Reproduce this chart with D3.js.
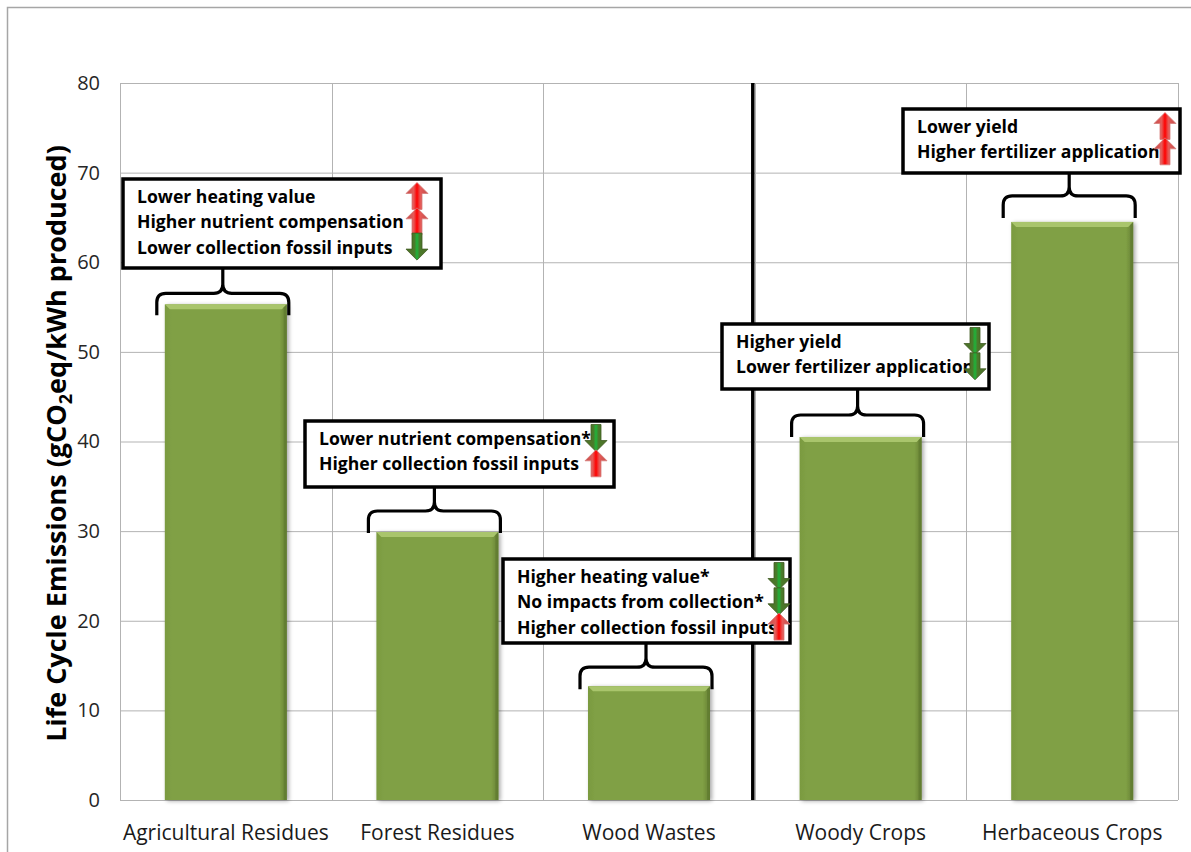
<!DOCTYPE html>
<html>
<head>
<meta charset="utf-8">
<script src="https://cdn.jsdelivr.net/npm/d3@7"></script>
<style>
  html, body { margin: 0; padding: 0; background: #fff; }
  svg { display: block; }
  text { font-family: "Open Sans", Lato, "DejaVu Sans", sans-serif; }
</style>
</head>
<body>
<svg id="chart" width="1191" height="852"></svg>
<script>
// Feedstock categories and their life cycle emissions (gCO2eq/kWh)
const categories = ["Agricultural Residues", "Forest Residues", "Wood Wastes", "Woody Crops", "Herbaceous Crops"];
const emissions = [55.3, 29.9, 12.7, 40.5, 64.5];
const yTicks = [0, 10, 20, 30, 40, 50, 60, 70, 80];

// Drivers listed above each bar; "up" raises emissions, "down" lowers them
const driverText = [
  ["Lower heating value", "Higher nutrient compensation", "Lower collection fossil inputs"],
  ["Lower nutrient compensation*", "Higher collection fossil inputs"],
  ["Higher heating value*", "No impacts from collection*", "Higher collection fossil inputs"],
  ["Higher yield", "Lower fertilizer application"],
  ["Lower yield", "Higher fertilizer application"]
];
const driverDirection = [
  ["up", "up", "down"],
  ["down", "up"],
  ["down", "down", "up"],
  ["down", "down"],
  ["up", "up"]
];

// Callout box placement (left, top, width, height, arrow inset from right)
const boxLayout = [
  {x: 123, y: 179, w: 318, h: 89, arrowInset: 24},
  {x: 305, y: 421, w: 309, h: 66, arrowInset: 18},
  {x: 503, y: 559, w: 287, h: 84, arrowInset: 11},
  {x: 722, y: 324, w: 267, h: 65, arrowInset: 14},
  {x: 903, y: 109, w: 277, h: 64, arrowInset: 15}
];
// Brace vertical offset: where the brace tips sit relative to the bar top
const braceTipOffset = [11, 1, 3, 0, -4];

const svg = d3.select("#chart");
const margin = {left: 120, right: 1178, top: 83, bottom: 800};

const x = d3.scaleBand().domain(categories).range([margin.left, margin.right]).padding(0);
const y = d3.scaleLinear().domain([0, 80]).range([margin.bottom, margin.top]);
const barW = 122;

// Outer frame
svg.append("rect")
  .attr("x", 7.5).attr("y", 7.5).attr("width", 1250).attr("height", 900)
  .attr("fill", "none").attr("stroke", "#a6a6a6").attr("stroke-width", 1.5);

const defs = svg.append("defs");
const redGrad = defs.append("linearGradient").attr("id", "redArrow").attr("x1", 0).attr("x2", 1).attr("y1", 0).attr("y2", 0);
redGrad.append("stop").attr("offset", "0%").attr("stop-color", "#c0504d");
redGrad.append("stop").attr("offset", "35%").attr("stop-color", "#e65a57");
redGrad.append("stop").attr("offset", "50%").attr("stop-color", "#ff0000");
redGrad.append("stop").attr("offset", "65%").attr("stop-color", "#e65a57");
redGrad.append("stop").attr("offset", "100%").attr("stop-color", "#c0504d");
const greenGrad = defs.append("linearGradient").attr("id", "greenArrow").attr("x1", 0).attr("x2", 1).attr("y1", 0).attr("y2", 0);
greenGrad.append("stop").attr("offset", "0%").attr("stop-color", "#4f6f28");
greenGrad.append("stop").attr("offset", "38%").attr("stop-color", "#4a7a2a");
greenGrad.append("stop").attr("offset", "50%").attr("stop-color", "#1fb33a");
greenGrad.append("stop").attr("offset", "62%").attr("stop-color", "#4a7a2a");
greenGrad.append("stop").attr("offset", "100%").attr("stop-color", "#4f6f28");
const barGrad = defs.append("linearGradient").attr("id", "barFill").attr("x1", 0).attr("x2", 1).attr("y1", 0).attr("y2", 0);
barGrad.append("stop").attr("offset", "0%").attr("stop-color", "#7a9a40");
barGrad.append("stop").attr("offset", "6%").attr("stop-color", "#80a045");
barGrad.append("stop").attr("offset", "94%").attr("stop-color", "#80a045");
barGrad.append("stop").attr("offset", "100%").attr("stop-color", "#657f33");
const shadow = defs.append("filter").attr("id", "barShadow").attr("x", "-10%").attr("y", "-5%").attr("width", "125%").attr("height", "115%");
shadow.append("feGaussianBlur").attr("in", "SourceAlpha").attr("stdDeviation", 2);
shadow.append("feOffset").attr("dx", 2).attr("dy", 1).attr("result", "off");
shadow.append("feComponentTransfer").append("feFuncA").attr("type", "linear").attr("slope", 0.35);
const merge = shadow.append("feMerge");
merge.append("feMergeNode");
merge.append("feMergeNode").attr("in", "SourceGraphic");

// Grid
const grid = svg.append("g");
grid.selectAll("line.h").data(yTicks).join("line")
  .attr("x1", margin.left).attr("x2", margin.right)
  .attr("y1", d => y(d) + 0.5).attr("y2", d => y(d) + 0.5)
  .attr("stroke", "#b3b3b3").attr("stroke-width", 1);
const bounds = categories.map(c => x(c)).concat([margin.right]);
grid.selectAll("line.v").data(bounds).join("line")
  .attr("x1", d => Math.round(d) + 0.5).attr("x2", d => Math.round(d) + 0.5)
  .attr("y1", margin.top).attr("y2", margin.bottom)
  .attr("stroke", "#b3b3b3").attr("stroke-width", 1);

// Y axis labels
svg.append("g").attr("transform", `translate(${margin.left - 20},0)`)
  .call(d3.axisLeft(y).tickValues(yTicks).tickSize(0).tickPadding(0))
  .call(g => g.select(".domain").remove())
  .call(g => g.selectAll("text").attr("font-size", 20).attr("fill", "#262626")
    .attr("font-family", "'Open Sans', sans-serif"));

// X axis labels
svg.append("g").attr("transform", `translate(0,${margin.bottom + 25})`)
  .call(d3.axisBottom(x).tickSize(0).tickPadding(0))
  .call(g => g.select(".domain").remove())
  .call(g => g.selectAll("text").attr("font-size", 21).attr("fill", "#1a1a1a")
    .attr("font-family", "'Open Sans', sans-serif"));

// Y axis title
const yTitle = svg.append("text")
  .attr("transform", `translate(66,${(margin.top + margin.bottom) / 2 + 2}) rotate(-90)`)
  .attr("text-anchor", "middle").attr("font-size", 27).attr("font-weight", 700).attr("fill", "#000");
yTitle.append("tspan").text("Life Cycle Emissions (gCO");
yTitle.append("tspan").attr("font-size", 18).attr("dy", 6).text("2");
yTitle.append("tspan").attr("dy", -6).text("eq/kWh produced)");

// Separator between residue/waste feedstocks and dedicated crops
const sepX = x(categories[3]) - 2;
svg.append("line").attr("x1", sepX).attr("x2", sepX)
  .attr("y1", margin.top).attr("y2", margin.bottom)
  .attr("stroke", "#000").attr("stroke-width", 3.5);

// Bars with bevelled top
const bars = svg.append("g").selectAll("g").data(categories).join("g");
bars.each(function(c, i) {
  const g = d3.select(this);
  const bx = x(c) + (x.bandwidth() - barW) / 2;
  const top = y(emissions[i]);
  const bh = y(0) - top;
  g.append("rect").attr("x", bx).attr("y", top).attr("width", barW).attr("height", bh)
    .attr("fill", "url(#barFill)").attr("filter", "url(#barShadow)");
  const b = 5;
  g.append("path")
    .attr("d", `M${bx},${top} L${bx + barW},${top} L${bx + barW - b},${top + b} L${bx + b},${top + b} Z`)
    .attr("fill", "#a9c56c");
  g.append("path")
    .attr("d", `M${bx + barW},${top} L${bx + barW},${top + bh} L${bx + barW - 3},${top + bh} L${bx + barW - 3},${top + 3} Z`)
    .attr("fill", "#5f7a30").attr("opacity", 0.7);
});

// Arrow glyphs
function arrowPath(cx, cy, dir) {
  const hw = 11, sw = 5, h = 27, head = 11;
  const t = cy - h / 2, bt = cy + h / 2;
  if (dir === "up") {
    return `M${cx},${t} L${cx + hw},${t + head} L${cx + sw},${t + head} L${cx + sw},${bt} L${cx - sw},${bt} L${cx - sw},${t + head} L${cx - hw},${t + head} Z`;
  }
  return `M${cx},${bt} L${cx + hw},${bt - head} L${cx + sw},${bt - head} L${cx + sw},${t} L${cx - sw},${t} L${cx - sw},${bt - head} L${cx - hw},${bt - head} Z`;
}

// Callouts: brace over each bar, linked to a box of drivers
const notes = svg.append("g");
categories.forEach((c, i) => {
  const L = boxLayout[i];
  const cx = x(c) + x.bandwidth() / 2 - 3;
  const tip = y(emissions[i]) + braceTipOffset[i];
  const yTop = tip - 22;
  const xl = cx - 66, xr = cx + 66, r = 9;
  const peak = L.y + L.h;
  const d = `M${xl},${tip} L${xl},${yTop + r} Q${xl},${yTop} ${xl + r},${yTop} L${cx - r},${yTop} Q${cx},${yTop} ${cx},${yTop - r} L${cx},${peak}` +
            ` M${xr},${tip} L${xr},${yTop + r} Q${xr},${yTop} ${xr - r},${yTop} L${cx + r},${yTop} Q${cx},${yTop} ${cx},${yTop - r}`;
  notes.append("path").attr("d", d).attr("fill", "none").attr("stroke", "#000")
    .attr("stroke-width", 3.2).attr("stroke-linejoin", "round");

  notes.append("rect").attr("x", L.x).attr("y", L.y).attr("width", L.w).attr("height", L.h)
    .attr("fill", "#fff").attr("stroke", "#000").attr("stroke-width", 3.5);

  const spacing = 25.3;
  const first = L.y + 24;
  driverText[i].forEach((t, k) => {
    notes.append("text").attr("x", L.x + 14).attr("y", first + k * spacing)
      .attr("font-size", 17.6).attr("font-weight", 700).attr("fill", "#000").text(t);
  });
  driverDirection[i].forEach((dir, k) => {
    const ay = first + k * spacing - 7;
    notes.append("path").attr("d", arrowPath(L.x + L.w - L.arrowInset, ay, dir))
      .attr("fill", dir === "up" ? "url(#redArrow)" : "url(#greenArrow)")
      .attr("stroke", dir === "up" ? "#d77b79" : "#3f5a22").attr("stroke-width", 0.8);
  });
});
</script>
</body>
</html>
